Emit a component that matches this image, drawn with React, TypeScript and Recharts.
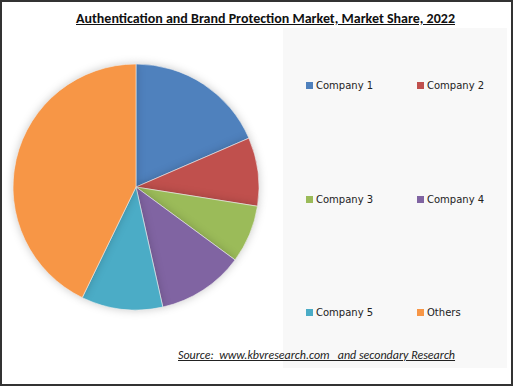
import { PieChart, Pie, Cell, Legend } from "recharts";

const COMPANIES = ["Company 1", "Company 2", "Company 3", "Company 4", "Company 5", "Others"];
const SHARES = [18.5, 9.0, 7.6, 11.4, 10.7, 42.8];
const COLORS = ["#4F81BD", "#C0504D", "#9BBB59", "#8064A2", "#4BACC6", "#F79646"];

const data = COMPANIES.map((name, i) => ({ name, value: SHARES[i] }));

const FONT = "Carlito, 'Open Sans', 'Noto Sans', sans-serif";

function LegendGrid({ payload }: any) {
  const rowsY = [0, 114, 227];
  return (
    <div style={{ position: "relative", width: 220, height: 240, fontFamily: "'DejaVu Sans', Verdana, sans-serif", fontSize: 10, color: "#222" }}>
      {(payload || []).map((p: any, i: number) => (
        <div
          key={p.value}
          style={{
            position: "absolute",
            left: (i % 2) * 111,
            top: rowsY[Math.floor(i / 2)],
            display: "flex",
            alignItems: "center",
            whiteSpace: "nowrap",
          }}
        >
          <span style={{ width: 7, height: 7, background: p.color, marginRight: 3, display: "inline-block" }} />
          {p.value}
        </div>
      ))}
    </div>
  );
}

export default function App() {
  return (
    <div
      style={{
        position: "absolute",
        left: 0,
        top: 0,
        width: 513,
        height: 386,
        boxSizing: "border-box",
        border: "2px solid #333",
        background: "#fff",
        fontFamily: FONT,
      }}
    >
      <div style={{ position: "absolute", left: 281, top: 26, width: 224, height: 340, background: "#f8f8f8" }} />
      <div
        style={{
          position: "absolute",
          left: 0,
          top: 8,
          width: 509,
          textAlign: "center",
          fontWeight: "bold",
          fontSize: 14,
          textDecoration: "underline",
          color: "#111",
          paddingLeft: 18,
          boxSizing: "border-box",
        }}
      >
        Authentication and Brand Protection Market, Market Share, 2022
      </div>
      <div style={{ position: "absolute", left: -2, top: -2 }}>
        <PieChart width={513} height={386} margin={{ top: 0, right: 0, bottom: 0, left: 0 }}>
          <Pie
            data={data}
            dataKey="value"
            nameKey="name"
            cx={136}
            cy={187}
            outerRadius={123}
            startAngle={90}
            endAngle={-270}
            stroke="#f0f0f0"
            strokeWidth={0.6}
            isAnimationActive={false}
            style={{ filter: "drop-shadow(0px 0px 4px rgba(0,0,0,0.2))" }}
          >
            {data.map((d, i) => (
              <Cell key={d.name} fill={COLORS[i]} />
            ))}
          </Pie>
          <Legend
            content={<LegendGrid />}
            wrapperStyle={{ position: "absolute", left: 306, top: 80, width: 220 }}
          />
        </PieChart>
      </div>
      <div
        style={{
          position: "absolute",
          left: 176,
          top: 346,
          fontStyle: "italic",
          fontSize: 12,
          textDecoration: "underline",
          color: "#222",
          whiteSpace: "pre",
        }}
      >
        {"Source:  www.kbvresearch.com   and secondary Research"}
      </div>
    </div>
  );
}
